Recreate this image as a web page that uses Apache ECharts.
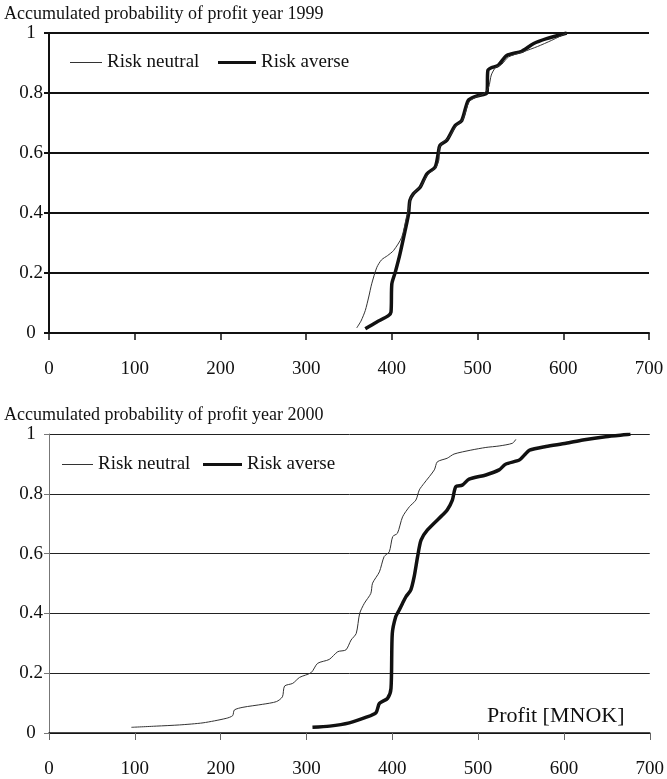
<!DOCTYPE html>
<html>
<head>
<meta charset="utf-8">
<script src="https://cdn.jsdelivr.net/npm/echarts@6/dist/echarts.min.js"></script>
<style>
  html, body { margin: 0; padding: 0; background: #fff; }
  #chart { width: 667px; height: 779px; }
</style>
</head>
<body>
<div id="chart"></div>
<script>
// ---- Data ----
const xTicks = [0, 100, 200, 300, 400, 500, 600, 700];
const yTicks = [0, 0.2, 0.4, 0.6, 0.8, 1];

// Year 1999
const profit1999Neutral = [359, 364, 369, 373, 376.5, 382.5, 388, 395, 402, 411.5, 417, 420, 422, 427, 434, 442, 451, 455, 455, 459, 466, 475, 483, 490, 498, 507, 513, 516, 521, 528, 536, 553, 570, 586, 604];
const prob1999Neutral   = [0.017, 0.04, 0.075, 0.12, 0.164, 0.219, 0.244, 0.258, 0.275, 0.319, 0.386, 0.42, 0.45, 0.47, 0.49, 0.528, 0.55, 0.58, 0.61, 0.635, 0.65, 0.69, 0.712, 0.77, 0.786, 0.797, 0.82, 0.86, 0.885, 0.895, 0.92, 0.937, 0.955, 0.975, 1.0];
const profit1999Averse  = [369, 382, 396, 399, 400, 404, 409.5, 415.5, 419.5, 421, 425, 433, 441, 450.5, 454, 456, 464, 474, 481.5, 489, 497, 507, 511, 512, 516, 524, 534, 551.5, 565, 580.5, 604];
const prob1999Averse    = [0.014, 0.036, 0.058, 0.07, 0.164, 0.203, 0.264, 0.342, 0.397, 0.442, 0.464, 0.486, 0.531, 0.553, 0.597, 0.625, 0.642, 0.692, 0.708, 0.775, 0.788, 0.795, 0.80, 0.875, 0.884, 0.892, 0.925, 0.939, 0.964, 0.981, 1.0];

// Year 2000
const profit2000Neutral = [96, 125, 152, 179.5, 206.5, 214, 216, 226, 249, 265, 272, 274.5, 284, 292, 305.5, 313, 326.5, 336.5, 346, 352, 358, 362, 367.5, 375, 377, 385, 390.5, 396.5, 400.5, 406, 412, 420, 427.5, 431.5, 437, 449, 452.5, 464, 472, 491.5, 509, 524.5, 540, 544];
const prob2000Neutral   = [0.019, 0.023, 0.027, 0.034, 0.049, 0.058, 0.077, 0.086, 0.096, 0.105, 0.121, 0.157, 0.166, 0.186, 0.202, 0.233, 0.246, 0.272, 0.278, 0.311, 0.333, 0.40, 0.434, 0.467, 0.501, 0.539, 0.59, 0.606, 0.657, 0.668, 0.723, 0.757, 0.779, 0.813, 0.835, 0.88, 0.907, 0.919, 0.933, 0.946, 0.955, 0.96, 0.969, 0.982];
const profit2000Averse  = [307, 327, 350, 369, 381, 385, 394.5, 398.5, 400, 404, 408, 412, 416, 421.5, 425.5, 429.5, 433.5, 441, 458.5, 464, 470, 474, 481.5, 489.5, 509, 524.5, 532, 548, 554, 560, 579, 602.5, 622, 648.5, 677.5];
const prob2000Averse    = [0.019, 0.023, 0.034, 0.052, 0.068, 0.099, 0.116, 0.149, 0.333, 0.389, 0.411, 0.434, 0.456, 0.478, 0.523, 0.59, 0.645, 0.679, 0.729, 0.746, 0.779, 0.824, 0.829, 0.849, 0.863, 0.88, 0.899, 0.913, 0.93, 0.946, 0.958, 0.969, 0.98, 0.991, 0.999];

const titles = ['Accumulated probability of profit year 1999', 'Accumulated probability of profit year 2000'];
const seriesNames = ['Risk neutral', 'Risk averse'];
const xAxisName = 'Profit [MNOK]';

// ---- Build ----
const zip = (xs, ys) => xs.map((x, i) => [x, ys[i]]);
const FONT = '"Liberation Serif", "Times New Roman", serif';
const TXT = { fontFamily: FONT, fontSize: 19, color: '#111' };

function xAxisOf(gridIndex, strong) {
  return {
    type: 'value', gridIndex, min: xTicks[0], max: xTicks[xTicks.length - 1], interval: 100,
    axisLine: { show: true, lineStyle: { color: '#111', width: strong ? 2 : 1.5 } },
    axisTick: { show: true, inside: false, length: 7, lineStyle: { color: strong ? '#111' : '#666', width: strong ? 1.5 : 1 } },
    axisLabel: { margin: 27, fontFamily: FONT, fontSize: 19, color: '#111' },
    splitLine: { show: false }
  };
}
function yAxisOf(gridIndex, strong) {
  return {
    type: 'value', gridIndex, min: yTicks[0], max: yTicks[yTicks.length - 1], interval: 0.2,
    axisLine: { show: true, onZero: false, lineStyle: { color: strong ? '#111' : '#777', width: strong ? 2 : 1 } },
    axisTick: { show: true, inside: false, length: 5, lineStyle: { color: strong ? '#111' : '#777', width: strong ? 2 : 1 } },
    axisLabel: { margin: 18, align: 'center', padding: [8, 0, 0, 0], fontFamily: FONT, fontSize: 19, color: '#111' },
    splitLine: { show: true, lineStyle: { color: strong ? '#111' : '#222', width: strong ? 2 : 1 } }
  };
}
function lineSeries(name, xi, data, thick) {
  return {
    type: 'line', name, xAxisIndex: xi, yAxisIndex: xi, data,
    symbol: 'none', showSymbol: false, smooth: 0.25,
    lineStyle: { color: thick ? '#111' : '#333', width: thick ? 3.5 : 1 },
    itemStyle: { color: thick ? '#111' : '#333' },
    z: thick ? 3 : 4, animation: false
  };
}
function legendOf(name, left, top, width, thick) {
  return {
    data: [{ name, icon: 'rect', itemStyle: { color: thick ? '#111' : '#333' } }],
    left, top, itemWidth: width, itemHeight: thick ? 3 : 1, itemGap: 0,
    selectedMode: false, textStyle: TXT, padding: 0
  };
}

const chart = echarts.init(document.getElementById('chart'), null, { renderer: 'canvas' });
chart.setOption({
  animation: false,
  backgroundColor: '#fff',
  title: [
    { text: titles[0], left: 4, top: 5, padding: 0, textStyle: Object.assign({}, TXT, { fontWeight: 'normal', fontSize: 18 }) },
    { text: titles[1], left: 4, top: 406, padding: 0, textStyle: Object.assign({}, TXT, { fontWeight: 'normal', fontSize: 18 }) },
    { text: xAxisName, left: 487, top: 705, padding: 0, textStyle: Object.assign({}, TXT, { fontWeight: 'normal', fontSize: 22 }) }
  ],
  legend: [
    legendOf(seriesNames[0], 70, 53, 32, false),
    legendOf(seriesNames[1], 218, 53, 38, true),
    legendOf(seriesNames[0], 62, 455, 31, false),
    legendOf(seriesNames[1], 203, 455, 39, true)
  ],
  grid: [
    { left: 49, top: 33, width: 600, height: 300, containLabel: false },
    { left: 49, top: 434, width: 603, height: 299, containLabel: false }
  ],
  xAxis: [xAxisOf(0, true), xAxisOf(1, false)],
  yAxis: [yAxisOf(0, true), yAxisOf(1, false)],
  series: [
    lineSeries(seriesNames[0], 0, zip(profit1999Neutral, prob1999Neutral), false),
    lineSeries(seriesNames[1], 0, zip(profit1999Averse, prob1999Averse), true),
    lineSeries(seriesNames[0], 1, zip(profit2000Neutral, prob2000Neutral), false),
    lineSeries(seriesNames[1], 1, zip(profit2000Averse, prob2000Averse), true)
  ]
});
</script>
</body>
</html>
